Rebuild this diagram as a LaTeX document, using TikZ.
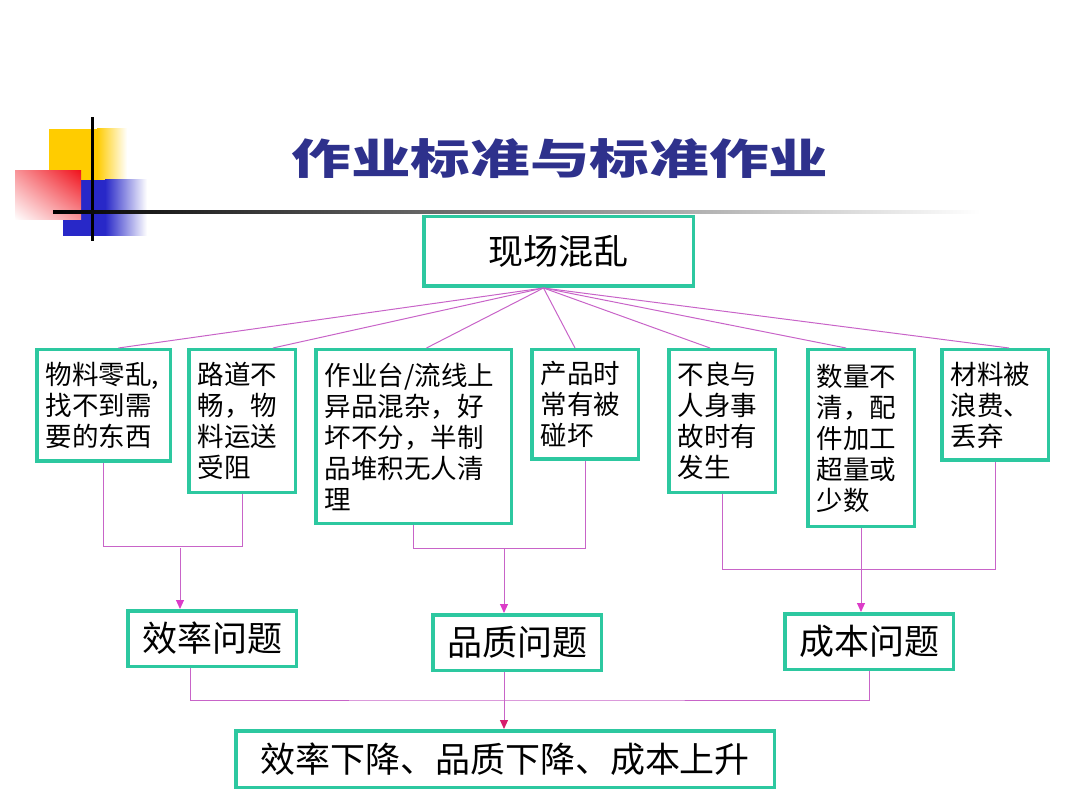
\documentclass[tikz,border=0pt]{standalone}
\usepackage{fontspec}
\newfontfamily\cjk{Noto Sans CJK SC}
\newfontfamily\titlefont{Noto Sans CJK SC}[FakeStretch=1.42]
\usetikzlibrary{arrows.meta,positioning,shadings}
\definecolor{frame}{RGB}{45,200,160}
\definecolor{wire}{RGB}{200,100,200}
\definecolor{tipc}{RGB}{220,60,200}
\definecolor{tipdark}{RGB}{215,30,110}
\definecolor{titleblue}{RGB}{46,49,140}
\definecolor{deckyellow}{RGB}{255,204,0}
\definecolor{deckblue}{RGB}{40,40,200}
\definecolor{deckred}{RGB}{240,20,30}

\begin{document}
\begin{tikzpicture}[x=1pt,y=-1pt,
  node distance=15pt,
  cause/.style={rectangle,draw=frame,line width=3.5pt,fill=white,inner xsep=9pt,inner ysep=6pt,
                align=left,text width=88.5pt,font=\cjk\fontsize{26.5}{31}\selectfont},
  issue/.style={rectangle,draw=frame,line width=3.5pt,fill=white,
                minimum width=168.5pt,minimum height=55.5pt,font=\cjk\fontsize{35}{40}\selectfont},
  link/.style={draw=wire,line width=1pt},
  arr/.style={link,-{Triangle[width=8pt,length=9pt,color=tipc]}},
  arrdark/.style={link,-{Triangle[width=8pt,length=9pt,color=tipdark]}},
]
\useasboundingbox (0,0) rectangle (1080,810);

%% --- corner decoration and title ---
\fill[deckyellow] (49,129) rectangle (97,180);
\shade[left color=deckyellow,right color=white] (97,129) rectangle (127,180);
\fill[deckblue] (63,180) rectangle (105,236);
\shade[left color=deckblue,right color=white] (105,180) rectangle (147,236);
\shade[upper right=deckred,lower left=white,upper left=deckred!45!white,lower right=deckred!45!white]
  (15,171) rectangle (81,220);
\fill[black] (90.5,117) rectangle (93.5,241);
\shade[left color=black,middle color=gray!70,right color=white] (53,210.5) rectangle (980,213.5);
\node[font=\titlefont\bfseries\fontsize{42}{48}\selectfont,text=titleblue] (title) at (560,159) {作业标准与标准作业};

%% --- top ---
\node[issue,minimum width=269.5pt,minimum height=69.5pt] (mess) at (558.5,251.5) {现场混乱};

%% --- causes ---
\node[cause,anchor=north west,text width=115.5pt,minimum height=111.5pt] (b1) at (35,348) {物料零乱,\\找不到需\\要的东西};
\node[cause,right=15pt of b1.north east,anchor=north west,minimum height=142.5pt] (b2) {路道不\\畅，物\\料运送\\受阻};
\node[cause,right=17pt of b2.north east,anchor=north west,text width=177.5pt,minimum height=173.5pt] (b3) {作业台/流线上\\异品混杂，好\\坏不分，半制\\品堆积无人清\\理};
\node[cause,right=17pt of b3.north east,anchor=north west,minimum height=109.5pt] (b4) {产品时\\常有被\\碰坏};
\node[cause,right=27pt of b4.north east,anchor=north west,minimum height=142.5pt] (b5) {不良与\\人身事\\故时有\\发生};
\node[cause,right=29pt of b5.north east,anchor=north west,minimum height=176.5pt] (b6) {数量不\\清，配\\件加工\\超量或\\少数};
\node[cause,right=24pt of b6.north east,anchor=north west,minimum height=110.5pt] (b7) {材料被\\浪费、\\丢弃};

\coordinate (hub) at ([xshift=-15pt]mess.south);
\foreach \b/\s in {b1/15,b2/31,b3/13,b4/-10,b5/-12,b6/-15,b7/14}
  \draw[link] (hub) -- ([xshift=\s pt]\b.north);

%% --- problems ---
\node[issue] (eff)  at (212,638.5) {效率问题};
\node[issue] (qual) at (517,642.5) {品质问题};
\node[issue] (cost) at (869,641.5) {成本问题};
\node[issue,minimum width=538.5pt,minimum height=56.5pt] (final) at (505,759) {效率下降、品质下降、成本上升};

\draw[link] (b1.south) -- ++(0,83) -| (b2.south);
\coordinate (j1) at (180,548);
\draw[arr] (j1) -- (j1 |- eff.north);

\draw[link] (b3.south) -- ++(0,23) -| (b4.south);
\coordinate (j2) at (504,548);
\draw[arr] (j2) -- (j2 |- qual.north);

\draw[link] (b5.south) -- ++(0,75) -| (b7.south);
\draw[arr] (b6.south) -- (b6.south |- cost.north);

\coordinate (j4) at (504,700);
\draw[link] ([xshift=-22pt]eff.south) |- (j4) -| (cost.south);
\draw[arrdark] (qual.south -| j4) -- (final.north -| j4);

\end{tikzpicture}
\end{document}
